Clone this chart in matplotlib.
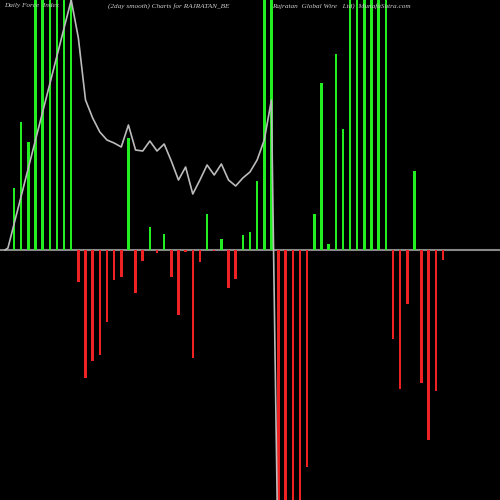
import numpy as np
import matplotlib.pyplot as plt

# force index bars (scaled), clipped at the frame edges
bars = [62, 128, 108, 300, 300, 300, 300, 300, 300,
        -32, -128, -111, -105, -72, -30, -27, 112, -43, -11, 23, -3, 16, -27, -65, -2,
        -108, -12, 36, -1, 11, -38, -29, 15, 18, 69, 300, 300,
        -300, -300, -300, -300, -217, 36, 167, 6, 196, 121,
        300, 300, 300, 300, 300, 300,
        -89, -139, -54, 79, -133, -190, -141, -10]

# smoothed line
line_x = [-1.25, -0.85, 8, 9, 10, 11, 12, 13, 14, 15, 16, 17, 18, 19, 20, 21, 22, 23, 24,
          25, 26, 27, 28, 29, 30, 31, 32, 33, 34, 35, 36, 36.8]
line_y = [0, 2, 250, 212, 150, 132, 118, 110, 107, 103, 125, 100, 99, 109, 99, 106, 89, 70, 83,
          56, 70, 85, 75, 86, 70, 64, 72, 78, 90, 110, 150, -250]

fig = plt.figure(figsize=(5, 5), dpi=100, facecolor='black')
ax = fig.add_axes([0, 0, 1, 1])
ax.set_facecolor('black')

x = np.arange(len(bars))
vals = np.array(bars)
cols = ['#22ee22' if v > 0 else '#ee2222' for v in vals]
ax.bar(x, vals, width=0.35, color=cols, zorder=2)
ax.axhline(0, color='#888888', lw=1.5, zorder=1)
ax.plot(line_x, line_y, color='#bbbbbb', lw=1.2, zorder=3)

ax.set_xlim(-1.96, 67.97)
ax.set_ylim(-250, 250)
ax.axis('off')

tk = dict(color='#cccccc', fontsize=5.2, family='Liberation Serif', style='italic', va='center')
fig.text(4 / 500, 1 - 6 / 500, 'Daily Force  Index', **tk)
fig.text(108 / 500, 1 - 6 / 500, '(2day smooth) Charts for RAJRATAN_BE', **tk)
fig.text(272 / 500, 1 - 6 / 500, 'Rajratan  Global Wire   Ltd)  MunafaSutra.com', **tk)

fig.savefig('out.png', dpi=100, facecolor='black')
